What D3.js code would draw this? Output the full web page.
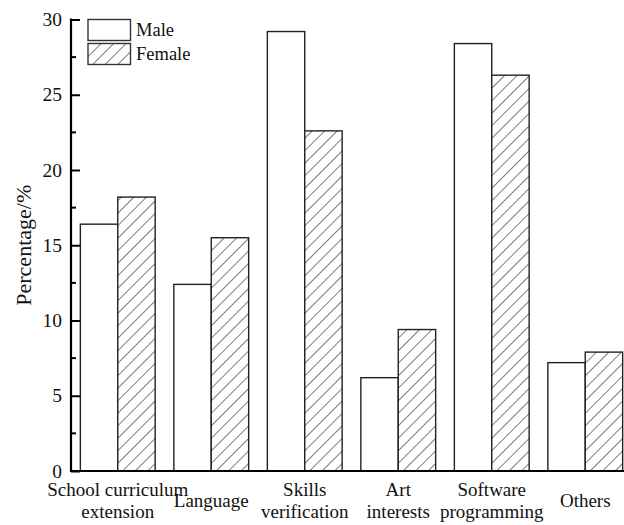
<!DOCTYPE html>
<html>
<head>
<meta charset="utf-8">
<script src="https://cdn.jsdelivr.net/npm/d3@7"></script>
<style>
  html, body { margin: 0; padding: 0; background: #fff; }
  svg { display: block; }
</style>
</head>
<body>
<svg id="chart" width="624" height="525"></svg>
<script>
// Survey data: share of respondents by purpose, split by gender
const categories = [
  ["School curriculum", "extension"],
  ["Language"],
  ["Skills", "verification"],
  ["Art", "interests"],
  ["Software", "programming"],
  ["Others"]
];
const seriesNames = ["Male", "Female"];
const maleValues   = [16.4, 12.4, 29.2, 6.2, 28.4, 7.2];
const femaleValues = [18.2, 15.5, 22.6, 9.4, 26.3, 7.9];
const yTicks = [0, 5, 10, 15, 20, 25, 30];

const FONT = '"Liberation Serif"';
const svg = d3.select("#chart");
const margin = { left: 71, top: 19.5, bottom: 471, right: 632 };

const keys = categories.map((c, i) => i);
const x = d3.scaleBand().domain(keys).range([margin.left, margin.right])
  .paddingInner(0.2).paddingOuter(0.1);
const xs = d3.scaleBand().domain(seriesNames).range([0, x.bandwidth()]);
const y = d3.scaleLinear().domain([0, 30]).range([margin.bottom, margin.top]);

// Diagonal hatch for the Female series
const defs = svg.append("defs");
const pat = defs.append("pattern")
  .attr("id", "hatch")
  .attr("patternUnits", "userSpaceOnUse")
  .attr("width", 8.84).attr("height", 8.84)
  .attr("patternTransform", "rotate(45)");
pat.append("rect").attr("width", 8.84).attr("height", 8.84).attr("fill", "#fff");
pat.append("line").attr("x1", 0).attr("y1", 0).attr("x2", 0).attr("y2", 8.84)
  .attr("stroke", "#111").attr("stroke-width", 1.1);

const fills = { Male: "#fff", Female: "url(#hatch)" };

const rows = keys.map(i => ({ i, Male: maleValues[i], Female: femaleValues[i] }));

// Bars
const groups = svg.append("g").selectAll("g").data(rows).join("g")
  .attr("transform", d => `translate(${x(d.i)},0)`);
groups.selectAll("rect")
  .data(d => seriesNames.map(s => ({ s, v: d[s] })))
  .join("rect")
  .attr("x", d => xs(d.s))
  .attr("y", d => y(d.v))
  .attr("width", xs.bandwidth())
  .attr("height", d => y(0) - y(d.v))
  .attr("fill", d => fills[d.s])
  .attr("stroke", "#222")
  .attr("stroke-width", 1.4);

// Y axis with inward major and minor ticks
const yAxis = svg.append("g").attr("transform", `translate(${margin.left},0)`);
yAxis.call(d3.axisRight(y).tickValues(yTicks).tickSize(9).tickFormat(""));
yAxis.select(".domain").remove();
yAxis.selectAll(".tick line").attr("stroke", "#000").attr("stroke-width", 2);
const minor = d3.range(2.5, 30, 5);
yAxis.selectAll(".minor").data(minor).join("line")
  .attr("class", "minor")
  .attr("x1", 0).attr("x2", 5)
  .attr("y1", d => y(d)).attr("y2", d => y(d))
  .attr("stroke", "#000").attr("stroke-width", 2);
yAxis.selectAll(".ylab").data(yTicks).join("text")
  .attr("class", "ylab")
  .attr("x", -9).attr("y", d => y(d)).attr("dy", "0.34em")
  .attr("text-anchor", "end")
  .attr("fill", "#111")
  .style("font-family", FONT)
  .style("font-size", "19.5px")
  .text(d => d);
svg.append("line")
  .attr("x1", margin.left).attr("x2", margin.left)
  .attr("y1", y(30) - 1).attr("y2", y(0) + 1)
  .attr("stroke", "#000").attr("stroke-width", 2.2);

// X axis baseline
svg.append("line")
  .attr("x1", margin.left - 1).attr("x2", margin.right)
  .attr("y1", y(0)).attr("y2", y(0))
  .attr("stroke", "#000").attr("stroke-width", 2.2);

// Category labels (one or two lines, vertically centred)
const lineGap = 21.3, midBase = 507;
svg.append("g").selectAll("text").data(categories).join("text")
  .attr("text-anchor", "middle")
  .attr("fill", "#111")
  .style("font-family", FONT)
  .style("font-size", "19px")
  .each(function (lines, i) {
    const cx = x(i) + x.bandwidth() / 2;
    const start = midBase - (lines.length - 1) * lineGap / 2;
    d3.select(this).selectAll("tspan").data(lines).join("tspan")
      .attr("x", cx)
      .attr("y", (d, k) => start + k * lineGap)
      .text(d => d);
  });

// Y axis title
svg.append("text")
  .attr("transform", `translate(31,${(y(0) + y(30)) / 2}) rotate(-90)`)
  .attr("text-anchor", "middle")
  .attr("fill", "#111")
  .style("font-family", FONT)
  .style("font-size", "22px")
  .text("Percentage/%");

// Legend
const legend = svg.append("g").attr("transform", "translate(88,19.5)");
seriesNames.forEach((s, k) => {
  const g = legend.append("g").attr("transform", `translate(0,${k * 24})`);
  g.append("rect").attr("width", 42.5).attr("height", 21)
    .attr("fill", fills[s]).attr("stroke", "#333").attr("stroke-width", 1.4);
  g.append("text").attr("x", 48).attr("y", 16.5)
    .attr("fill", "#111")
    .style("font-family", FONT)
    .style("font-size", "18.5px").text(s);
});
</script>
</body>
</html>
